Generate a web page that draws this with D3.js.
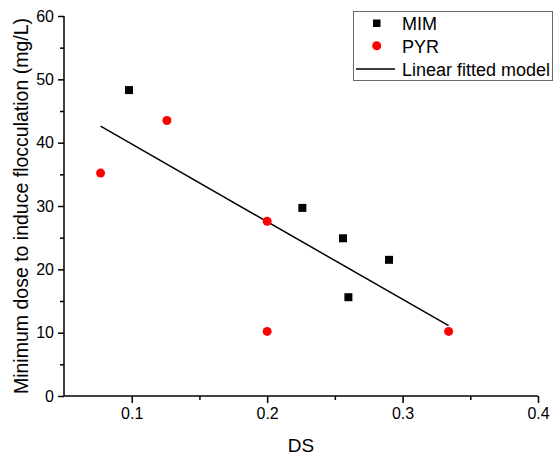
<!DOCTYPE html>
<html>
<head>
<meta charset="utf-8">
<script src="https://cdn.jsdelivr.net/npm/d3@7"></script>
<style>
  body { margin: 0; background: #fff; }
  text { font-family: "Liberation Sans", Arial, sans-serif; fill: #000; }
</style>
</head>
<body>
<div id="chart"></div>
<script>
// data
var mim_ds   = [0.098, 0.226, 0.256, 0.260, 0.290];
var mim_dose = [48.3, 29.7, 24.9, 15.6, 21.5];
var pyr_ds   = [0.077, 0.126, 0.200, 0.200, 0.334];
var pyr_dose = [35.2, 43.5, 27.6, 10.2, 10.2];
// fitted line end points
var fit_ds   = [0.077, 0.334];
var fit_dose = [42.6, 11.1];
var x_ticks = [0.1, 0.2, 0.3, 0.4];
var y_ticks = [0, 10, 20, 30, 40, 50, 60];
var legend_labels = ["MIM", "PYR", "Linear fitted model"];

function createChart(){
  var width = 555, height = 455;
  var margin = {top: 16, right: 17, bottom: 59, left: 64};

  var svg = d3.select("#chart").append("svg")
      .attr("width", width)
      .attr("height", height);

  var x = d3.scaleLinear().domain([0.05, 0.4]).range([margin.left, width - margin.right]);
  var y = d3.scaleLinear().domain([0, 60]).range([height - margin.bottom, margin.top]);

  // minor ticks
  svg.append("g")
      .attr("transform", "translate(0," + (height - margin.bottom) + ")")
      .call(d3.axisBottom(x).tickValues([0.15, 0.25, 0.35]).tickSize(4).tickFormat(""))
      .call(function(g){ g.select(".domain").remove(); })
      .selectAll("line").attr("stroke-width", 1.5);
  svg.append("g")
      .attr("transform", "translate(" + margin.left + ",0)")
      .call(d3.axisLeft(y).tickValues([5, 15, 25, 35, 45, 55]).tickSize(4).tickFormat(""))
      .call(function(g){ g.select(".domain").remove(); })
      .selectAll("line").attr("stroke-width", 1.5);

  // X axis
  var xa = svg.append("g")
      .attr("transform", "translate(0," + (height - margin.bottom) + ")")
      .call(d3.axisBottom(x).tickValues(x_ticks).tickSize(7).tickSizeOuter(0).tickPadding(5)
        .tickFormat(d3.format(".1f")));
  xa.select(".domain").attr("stroke-width", 1.5).attr("d", "M" + margin.left + ",0H" + x(0.4));
  xa.selectAll("line").attr("stroke-width", 1.5);
  xa.selectAll("text").style("font-size", "16px").style("font-family", "Liberation Sans, Arial, sans-serif");

  // Y axis
  var ya = svg.append("g")
      .attr("transform", "translate(" + margin.left + ",0)")
      .call(d3.axisLeft(y).tickValues(y_ticks).tickSize(6).tickSizeOuter(0).tickPadding(4));
  ya.select(".domain").attr("stroke-width", 1.5).attr("d", "M0," + y(0) + "V" + y(60));
  ya.selectAll("line").attr("stroke-width", 1.5);
  ya.selectAll("text").style("font-size", "16px").style("font-family", "Liberation Sans, Arial, sans-serif");

  // axis titles
  svg.append("text")
      .attr("x", (x(0.05) + x(0.4)) / 2)
      .attr("y", 452)
      .attr("text-anchor", "middle")
      .style("font-size", "19px")
      .text("DS");
  svg.append("text")
      .attr("transform", "translate(28," + ((y(0) + y(60)) / 2) + ") rotate(-90)")
      .attr("text-anchor", "middle")
      .style("font-size", "19.5px")
      .text("Minimum dose to induce flocculation (mg/L)");

  // fitted line
  var fit = fit_ds.map(function(d, i){ return {ds: d, dose: fit_dose[i]}; });
  var line = d3.line()
      .x(function(d){ return x(d.ds); })
      .y(function(d){ return y(d.dose); });
  svg.append("path")
      .datum(fit)
      .attr("d", line)
      .style("fill", "none")
      .style("stroke", "black")
      .style("stroke-width", 1.5);

  // MIM squares
  var mim = mim_ds.map(function(d, i){ return {ds: d, dose: mim_dose[i]}; });
  svg.selectAll(".mim")
      .data(mim)
    .enter().append("rect")
      .attr("class", "mim")
      .attr("x", function(d){ return x(d.ds) - 4; })
      .attr("y", function(d){ return y(d.dose) - 4; })
      .attr("width", 8)
      .attr("height", 8)
      .style("fill", "black");

  // PYR circles
  var pyr = pyr_ds.map(function(d, i){ return {ds: d, dose: pyr_dose[i]}; });
  svg.selectAll(".pyr")
      .data(pyr)
    .enter().append("circle")
      .attr("class", "pyr")
      .attr("cx", function(d){ return x(d.ds); })
      .attr("cy", function(d){ return y(d.dose); })
      .attr("r", 4.5)
      .style("fill", "red");

  // legend
  var lg = svg.append("g");
  lg.append("rect")
      .attr("x", 353.5).attr("y", 11.5)
      .attr("width", 199).attr("height", 69)
      .style("fill", "white")
      .style("stroke", "#666")
      .style("stroke-width", 1);
  lg.append("rect")
      .attr("x", 373).attr("y", 19.5).attr("width", 7.5).attr("height", 7.5)
      .style("fill", "black");
  lg.append("circle")
      .attr("cx", 376.7).attr("cy", 45.7).attr("r", 4.5)
      .style("fill", "red");
  lg.append("line")
      .attr("x1", 356).attr("x2", 395).attr("y1", 69).attr("y2", 69)
      .style("stroke", "black").style("stroke-width", 1.5);
  var rowY = [30, 52.5, 75.5];
  lg.selectAll(".lt")
      .data(legend_labels)
    .enter().append("text")
      .attr("class", "lt")
      .attr("x", 402)
      .attr("y", function(d, i){ return rowY[i]; })
      .style("font-size", "18px")
      .text(function(d){ return d; });
}

createChart();
</script>
</body>
</html>
